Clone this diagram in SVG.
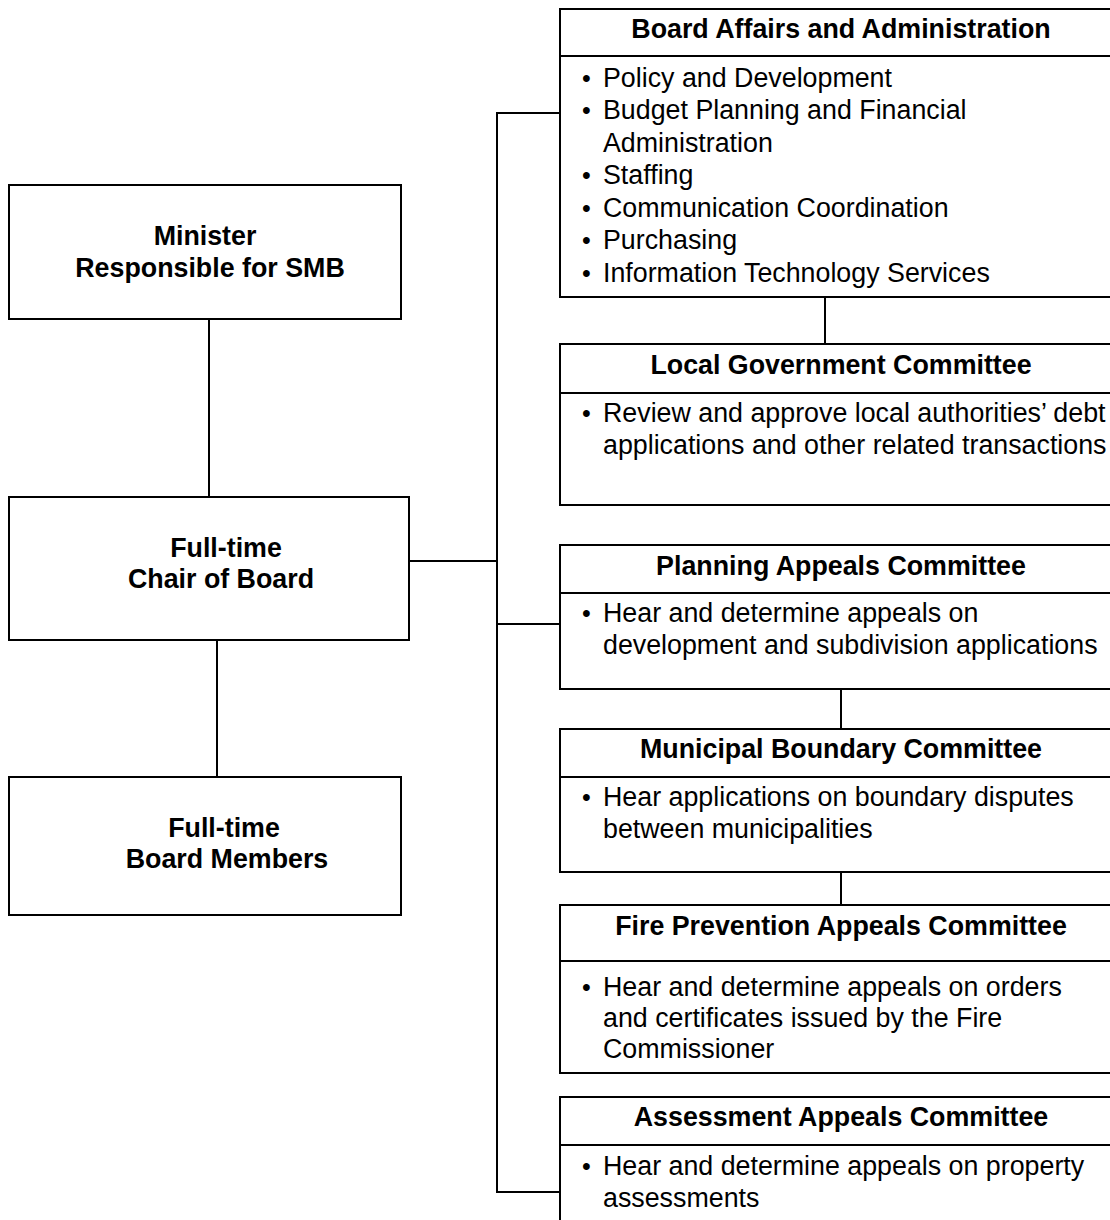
<svg xmlns="http://www.w3.org/2000/svg" width="1110" height="1220" viewBox="0 0 1110 1220">
<style>
.box{fill:#fff;stroke:#000;stroke-width:2}
.ln{stroke:#000;stroke-width:2;fill:none}
.t{font-family:"Liberation Sans",Arial,Helvetica,sans-serif;font-size:26.8px;fill:#000}
.b{font-weight:bold;text-anchor:middle}
.d{font-family:"Liberation Sans",Arial,Helvetica,sans-serif;font-size:25px;fill:#000}
</style>
<rect width="1110" height="1220" fill="#fff"/>
<g id="connectors">
<line class="ln" x1="209" y1="319" x2="209" y2="497"/>
<line class="ln" x1="217" y1="640" x2="217" y2="777"/>
<line class="ln" x1="409" y1="561" x2="497" y2="561"/>
<polyline class="ln" points="560,113 497,113 497,1192 560,1192"/>
<line class="ln" x1="497" y1="624" x2="560" y2="624"/>
<line class="ln" x1="825" y1="297" x2="825" y2="344"/>
<line class="ln" x1="841" y1="689" x2="841" y2="729"/>
<line class="ln" x1="841" y1="872" x2="841" y2="905"/>
</g>
<g id="minister">
<rect class="box" x="9" y="185" width="392" height="134"/>
<text class="t b" x="205" y="245">Minister</text>
<text class="t b" x="210" y="277">Responsible for SMB</text>
</g>
<g id="chair">
<rect class="box" x="9" y="497" width="400" height="143"/>
<text class="t b" x="226" y="557">Full-time</text>
<text class="t b" x="221" y="588">Chair of Board</text>
</g>
<g id="members">
<rect class="box" x="9" y="777" width="392" height="138"/>
<text class="t b" x="224" y="837">Full-time</text>
<text class="t b" x="227" y="868">Board Members</text>
</g>
<g id="board-affairs">
<rect class="box" x="560" y="9" width="560" height="288"/>
<line class="ln" x1="560" y1="56" x2="1120" y2="56"/>
<text class="t b" x="841" y="38">Board Affairs and Administration</text>
<text class="d" x="582" y="86.5">•</text><text class="t" x="603" y="86.5">Policy and Development</text>
<text class="d" x="582" y="119">•</text><text class="t" x="603" y="119">Budget Planning and Financial</text>
<text class="t" x="603" y="151.5">Administration</text>
<text class="d" x="582" y="184">•</text><text class="t" x="603" y="184">Staffing</text>
<text class="d" x="582" y="216.5">•</text><text class="t" x="603" y="216.5">Communication Coordination</text>
<text class="d" x="582" y="249">•</text><text class="t" x="603" y="249">Purchasing</text>
<text class="d" x="582" y="281.5">•</text><text class="t" x="603" y="281.5">Information Technology Services</text>
</g>
<g id="local-government">
<rect class="box" x="560" y="344" width="560" height="161"/>
<line class="ln" x1="560" y1="393" x2="1120" y2="393"/>
<text class="t b" x="841" y="374">Local Government Committee</text>
<text class="d" x="582" y="422">•</text><text class="t" x="603" y="422">Review and approve local authorities’ debt</text>
<text class="t" x="603" y="454">applications and other related transactions</text>
</g>
<g id="planning-appeals">
<rect class="box" x="560" y="545" width="560" height="144"/>
<line class="ln" x1="560" y1="593" x2="1120" y2="593"/>
<text class="t b" x="841" y="575">Planning Appeals Committee</text>
<text class="d" x="582" y="622">•</text><text class="t" x="603" y="622">Hear and determine appeals on</text>
<text class="t" x="603" y="654">development and subdivision applications</text>
</g>
<g id="municipal-boundary">
<rect class="box" x="560" y="729" width="560" height="143"/>
<line class="ln" x1="560" y1="777" x2="1120" y2="777"/>
<text class="t b" x="841" y="758">Municipal Boundary Committee</text>
<text class="d" x="582" y="806">•</text><text class="t" x="603" y="806">Hear applications on boundary disputes</text>
<text class="t" x="603" y="838">between municipalities</text>
</g>
<g id="fire-prevention">
<rect class="box" x="560" y="905" width="560" height="168"/>
<line class="ln" x1="560" y1="961" x2="1120" y2="961"/>
<text class="t b" x="841" y="935">Fire Prevention Appeals Committee</text>
<text class="d" x="582" y="996">•</text><text class="t" x="603" y="996">Hear and determine appeals on orders</text>
<text class="t" x="603" y="1027">and certificates issued by the Fire</text>
<text class="t" x="603" y="1058">Commissioner</text>
</g>
<g id="assessment-appeals">
<rect class="box" x="560" y="1097" width="560" height="150"/>
<line class="ln" x1="560" y1="1145" x2="1120" y2="1145"/>
<text class="t b" x="841" y="1126">Assessment Appeals Committee</text>
<text class="d" x="582" y="1175">•</text><text class="t" x="603" y="1175">Hear and determine appeals on property</text>
<text class="t" x="603" y="1207">assessments</text>
</g>
</svg>
